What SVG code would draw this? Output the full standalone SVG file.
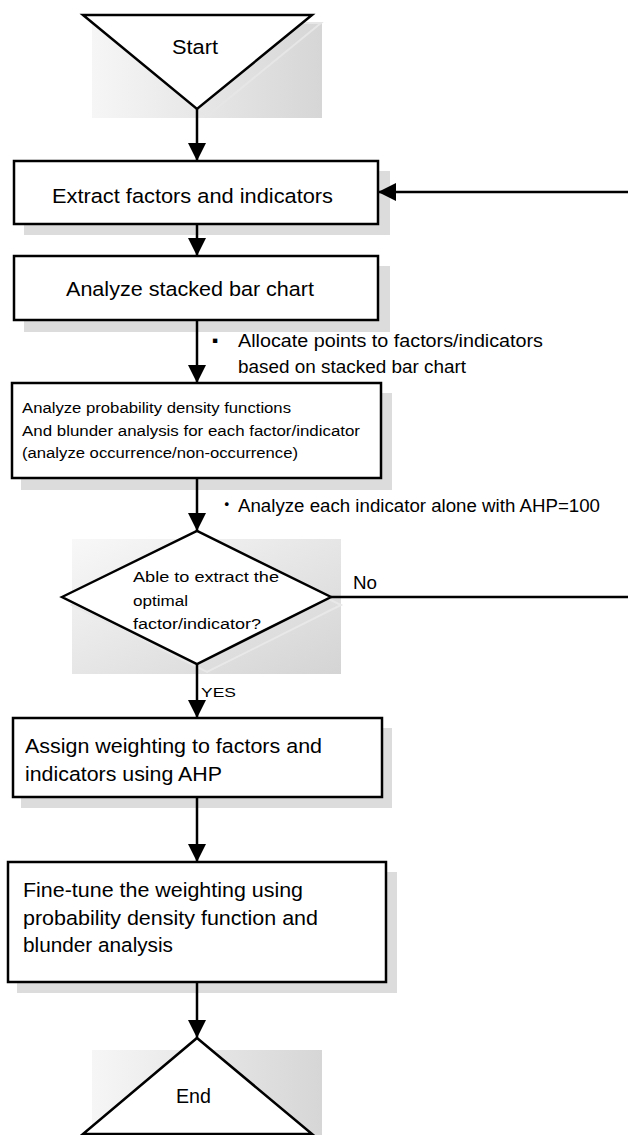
<svg xmlns="http://www.w3.org/2000/svg" width="628" height="1135" viewBox="0 0 628 1135">
<style>
.box{fill:#fff;stroke:#000;stroke-width:2.5}
.sh{fill:#dcdcdc}
.ln{fill:none;stroke:#000;stroke-width:2.5}
.t{font-family:"Liberation Sans",Arial,sans-serif;fill:#000}
.big{font-size:20.5px}
.mid{font-size:17.5px}
.sm{font-size:15.5px}
</style>
<defs>
<marker id="ah" markerUnits="userSpaceOnUse" markerWidth="18" markerHeight="18" viewBox="0 0 16 16" refX="16" refY="8" orient="auto">
<path d="M0,0 L16,8 L0,16 Z" fill="#000"/>
</marker>
<linearGradient id="gh" x1="0" y1="0" x2="1" y2="0">
<stop offset="0" stop-color="#f6f6f6"/>
<stop offset="1" stop-color="#d6d6d6"/>
</linearGradient>
<linearGradient id="gd" x1="0" y1="0" x2="1" y2="1">
<stop offset="0" stop-color="#f8f8f8"/>
<stop offset="1" stop-color="#d4d4d4"/>
</linearGradient>
</defs>

<g id="start">
<rect x="92" y="23" width="230" height="95" fill="url(#gh)"/>
<polygon points="92,23 321,23 206,117" fill="none" stroke="#e6e6e6" stroke-width="2"/>
<polygon class="box" points="83,15 312,15 197,109"/>
<text class="t big" x="172" y="54" textLength="46" lengthAdjust="spacingAndGlyphs">Start</text>
</g>

<g id="extract">
<rect class="sh" x="24" y="171" width="366" height="64"/>
<rect class="box" x="14" y="161" width="364" height="63"/>
<text class="t big" x="52" y="203" textLength="281" lengthAdjust="spacingAndGlyphs">Extract factors and indicators</text>
</g>

<g id="stacked">
<rect class="sh" x="24" y="266" width="366" height="66"/>
<rect class="box" x="14" y="256" width="364" height="64"/>
<text class="t big" x="66" y="296" textLength="248" lengthAdjust="spacingAndGlyphs">Analyze stacked bar chart</text>
</g>

<g id="pdf">
<rect class="sh" x="21" y="393" width="371" height="97"/>
<rect class="box" x="12" y="383" width="369" height="95"/>
<text class="t sm" x="22" y="413" textLength="269" lengthAdjust="spacingAndGlyphs">Analyze probability density functions</text>
<text class="t sm" x="22" y="436" textLength="338" lengthAdjust="spacingAndGlyphs">And blunder analysis for each factor/indicator</text>
<text class="t sm" x="22" y="458" textLength="276" lengthAdjust="spacingAndGlyphs">(analyze occurrence/non-occurrence)</text>
</g>

<g id="decision">
<rect x="72" y="539" width="269" height="135" fill="url(#gd)"/>
<polygon points="72,605 207,539 341,605 207,672" fill="none" stroke="#e8e8e8" stroke-width="2"/>
<polygon class="box" points="62,597 197,531 331,597 197,664"/>
<text class="t sm" x="133" y="582" textLength="146" lengthAdjust="spacingAndGlyphs">Able to extract the</text>
<text class="t sm" x="133" y="606" textLength="55" lengthAdjust="spacingAndGlyphs">optimal</text>
<text class="t sm" x="133" y="629" textLength="128" lengthAdjust="spacingAndGlyphs">factor/indicator?</text>
</g>

<g id="ahp">
<rect class="sh" x="21" y="728" width="371" height="80"/>
<rect class="box" x="13" y="718" width="369" height="79"/>
<text class="t big" x="25" y="753" textLength="297" lengthAdjust="spacingAndGlyphs">Assign weighting to factors and</text>
<text class="t big" x="25" y="781" textLength="197" lengthAdjust="spacingAndGlyphs">indicators using AHP</text>
</g>

<g id="finetune">
<rect class="sh" x="17" y="872" width="380" height="121"/>
<rect class="box" x="8" y="862" width="378" height="120"/>
<text class="t big" x="23" y="897" textLength="280" lengthAdjust="spacingAndGlyphs">Fine-tune the weighting using</text>
<text class="t big" x="23" y="925" textLength="295" lengthAdjust="spacingAndGlyphs">probability density function and</text>
<text class="t big" x="23" y="952" textLength="150" lengthAdjust="spacingAndGlyphs">blunder analysis</text>
</g>

<g id="end">
<rect x="92" y="1050" width="230" height="85" fill="url(#gh)"/>
<polygon class="box" points="197,1038 312,1134 83,1134"/>
<text class="t big" x="176" y="1103" textLength="35" lengthAdjust="spacingAndGlyphs">End</text>
</g>

<g id="connectors">
<line class="ln" x1="197" y1="109" x2="197" y2="161" marker-end="url(#ah)"/>
<line class="ln" x1="197" y1="224" x2="197" y2="256" marker-end="url(#ah)"/>
<line class="ln" x1="197" y1="320" x2="197" y2="383" marker-end="url(#ah)"/>
<line class="ln" x1="197" y1="478" x2="197" y2="531" marker-end="url(#ah)"/>
<line class="ln" x1="197" y1="664" x2="197" y2="718" marker-end="url(#ah)"/>
<line class="ln" x1="197" y1="797" x2="197" y2="862" marker-end="url(#ah)"/>
<line class="ln" x1="197" y1="982" x2="197" y2="1038" marker-end="url(#ah)"/>
<path class="ln" d="M331,597 H640 V192 H378" marker-end="url(#ah)"/>
<text class="t mid" x="212" y="346" font-size="12">▪</text>
<text class="t mid" x="238" y="347" textLength="305" lengthAdjust="spacingAndGlyphs">Allocate points to factors/indicators</text>
<text class="t mid" x="238" y="373" textLength="228" lengthAdjust="spacingAndGlyphs">based on stacked bar chart</text>
<text class="t mid" x="218" y="511" style="font-family:'Noto Sans CJK JP',sans-serif">・</text>
<text class="t mid" x="238" y="512" textLength="362" lengthAdjust="spacingAndGlyphs">Analyze each indicator alone with AHP=100</text>
<text class="t mid" x="353" y="589" textLength="24" lengthAdjust="spacingAndGlyphs">No</text>
<text class="t" x="201" y="697" font-size="13" textLength="35" lengthAdjust="spacingAndGlyphs">YES</text>
</g>
</svg>
